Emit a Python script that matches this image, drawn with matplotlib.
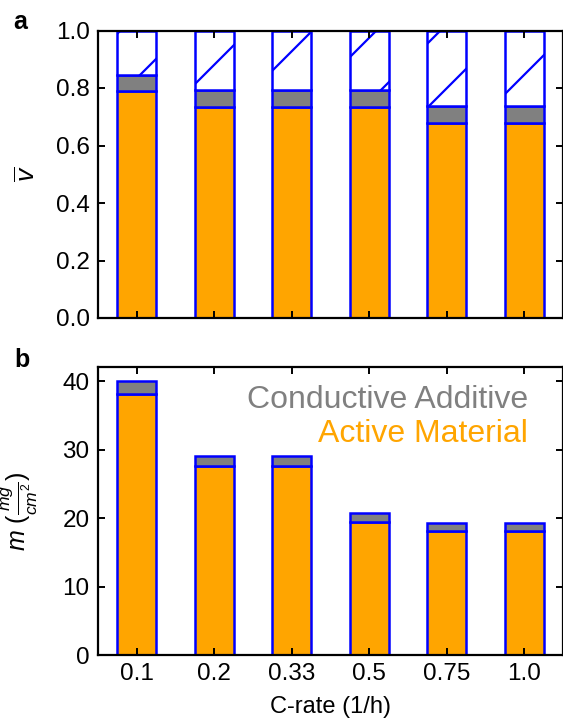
import matplotlib
matplotlib.use("Agg")
import matplotlib.pyplot as plt
from matplotlib.collections import LineCollection
from matplotlib.transforms import IdentityTransform
import numpy as np

plt.rcParams['font.family'] = ['Liberation Sans', 'DejaVu Sans']
plt.rcParams['mathtext.fontset'] = 'custom'
plt.rcParams['mathtext.it'] = 'Liberation Sans:italic'
plt.rcParams['mathtext.rm'] = 'Liberation Sans'

# data
c_rates = ["0.1", "0.2", "0.33", "0.5", "0.75", "1.0"]
vol_active = [0.79, 0.735, 0.735, 0.735, 0.68, 0.68]
vol_additive = [0.056, 0.058, 0.058, 0.058, 0.056, 0.056]
mass_active = [38.2, 27.7, 27.7, 19.5, 18.2, 18.2]
mass_additive = [1.9, 1.4, 1.4, 1.2, 1.1, 1.1]

ORANGE = "#FFA500"
GRAY = "#808080"
BLUE = "#0000FF"
W, H, DPI = 563, 719, 100

fig = plt.figure(figsize=(W / DPI, H / DPI), dpi=DPI)
ax_a = fig.add_axes([98 / W, 1 - 318 / H, 465 / W, 287.5 / H])
ax_b = fig.add_axes([98 / W, 1 - 655 / H, 465 / W, 288 / H])

x = np.arange(len(c_rates))
bw = 0.5
kw = dict(width=bw, edgecolor=BLUE, linewidth=1.8)

# panel a: volume fractions
vol_top = [a + b for a, b in zip(vol_active, vol_additive)]
vol_pore = [1 - t for t in vol_top]
ax_a.bar(x, vol_active, color=ORANGE, **kw)
ax_a.bar(x, vol_additive, bottom=vol_active, color=GRAY, **kw)
pores = ax_a.bar(x, vol_pore, bottom=vol_top, color="white", **kw)

# sparse diagonal hatch, drawn in pixel space and clipped to each pore bar
ks = np.arange(-184 - 64 * 12, 600, 64)
segs = [[(k - 50, -50), (k + 800, 800)] for k in ks]
for p in pores.patches:
    lc = LineCollection(segs, colors=BLUE, linewidths=1.6,
                        transform=IdentityTransform(), zorder=p.get_zorder() + 0.1)
    ax_a.add_collection(lc, autolim=False)
    lc.set_clip_path(p)

ax_a.set_ylim(0, 1.0)
ax_a.set_yticks([0, 0.2, 0.4, 0.6, 0.8, 1.0])
ax_a.set_ylabel(r"$\overline{v}$", fontsize=19)

# panel b: areal mass loading
mass_top = [a + b for a, b in zip(mass_active, mass_additive)]
ax_b.bar(x, mass_active, color=ORANGE, **kw)
ax_b.bar(x, mass_additive, bottom=mass_active, color=GRAY, **kw)
ax_b.set_ylim(0, max(mass_top) * 1.05)
ax_b.set_yticks([0, 10, 20, 30, 40])
ax_b.set_ylabel(r"$m\ (\frac{mg}{cm^2})$", fontsize=18)
ax_b.set_xlabel("C-rate (1/h)", fontsize=17, labelpad=8)

ax_b.text(0.925, 0.858, "Conductive Additive", color=GRAY, fontsize=23,
          ha="right", va="baseline", transform=ax_b.transAxes)
ax_b.text(0.925, 0.740, "Active Material", color=ORANGE, fontsize=23,
          ha="right", va="baseline", transform=ax_b.transAxes)

for ax in (ax_a, ax_b):
    ax.set_xlim(-0.5, 5.5)
    ax.set_xticks(x)
    ax.tick_params(direction="in", top=True, right=True, length=5, width=1.4,
                   labelsize=17.5, pad=6)
    for s in ax.spines.values():
        s.set_linewidth(1.6)
    ax.yaxis.set_label_coords(-0.125, 0.5)
ax_a.set_xticklabels([])
ax_b.set_xticklabels(c_rates)

fig.text(13 / W, 1 - 29 / H, "a", fontsize=18, fontweight="bold", va="baseline")
fig.text(14 / W, 1 - 367 / H, "b", fontsize=18, fontweight="bold", va="baseline")

fig.savefig("out.png", dpi=DPI)
